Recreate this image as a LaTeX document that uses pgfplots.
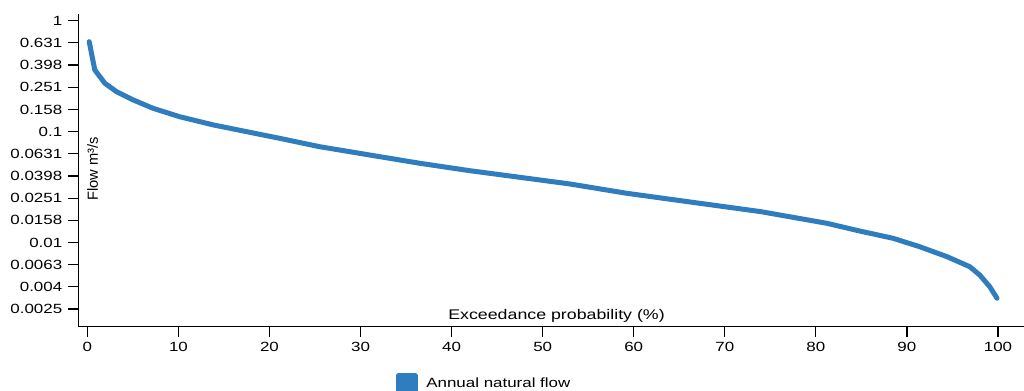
\documentclass[border=0pt]{standalone}
\usepackage{pgfplots}
\pgfplotsset{compat=1.18}
\usepackage{fontspec}
\setmainfont{Liberation Sans}[FakeStretch=1.27]
\newfontfamily\ylabfont{Liberation Sans}
\definecolor{flowblue}{RGB}{47,125,190}
\pgfplotstableread{
x y
0.2 0.647
0.82 0.359
1.92 0.273
3.2 0.229
5.03 0.193
7.23 0.162
10.16 0.136
13.8 0.115
17.5 0.0998
21.1 0.0870
25.5 0.0731
31.0 0.0615
36.5 0.0518
42.0 0.0444
47.5 0.0387
53.0 0.0337
59.2 0.0278
66.5 0.0230
73.9 0.0190
81.2 0.0149
84.8 0.0127
88.5 0.0109
91.4 0.00916
94.4 0.00745
96.9 0.00605
98.0 0.00509
99.1 0.00399
99.9 0.00314
}\flowdata
\begin{document}
\begin{tikzpicture}
\path[use as bounding box] (0,0) rectangle (768pt,292.5pt);
\begin{axis}[
  at={(58.7pt,47.5pt)}, anchor=south west,
  scale only axis, width=709.3pt, height=234.5pt,
  ymode=log,
  xmin=-1.0, xmax=102.86,
  ymin=0.001741, ymax=1.149,
  axis lines=left,
  axis line style={-, line width=1pt, black},
  tick style={line width=0.9pt, black},
  tick align=outside,
  major tick length=7.5pt,
  yminorticks=false,
  xtick={0,10,...,100},
  ytick={1,0.630957,0.398107,0.251189,0.158489,0.1,0.0630957,0.0398107,0.0251189,0.0158489,0.01,0.00630957,0.00398107,0.00251189},
  yticklabels={1,0.631,0.398,0.251,0.158,0.1,0.0631,0.0398,0.0251,0.0158,0.01,0.0063,0.004,0.0025},
  ticklabel style={font=\fontsize{10}{12}\selectfont, /pgf/number format/assume math mode=true},
  xticklabel style={yshift=-1pt},
  yticklabel style={xshift=-1pt},
  xlabel={Exceedance probability (\%)},
  ylabel={\ylabfont Flow m³/s},
  every axis x label/.style={at={(axis description cs:0.5057,0.0237)}, anchor=base, font=\fontsize{10.5}{12}\selectfont},
  every axis y label/.style={at={(axis description cs:0.0092,0.504)}, rotate=90, anchor=north, inner sep=0pt, font=\fontsize{11}{13}\selectfont},
  legend style={draw=none, fill=none, inner sep=0pt, outer sep=0pt,
    at={(axis description cs:0.336,-0.181)}, anchor=west,
    font=\fontsize{10}{12}\selectfont,
    /tikz/every odd column/.append style={column sep=4.5pt}},
  legend cell align=left,
  legend image code/.code={\fill[flowblue] (0pt,-5.6pt) rectangle (12.5pt,5.6pt);},
]
\addplot[flowblue, line width=3.75pt, line join=round, line cap=round] table[x=x,y=y] {\flowdata};
\addlegendentry{Annual natural flow}
\end{axis}
\end{tikzpicture}
\end{document}
